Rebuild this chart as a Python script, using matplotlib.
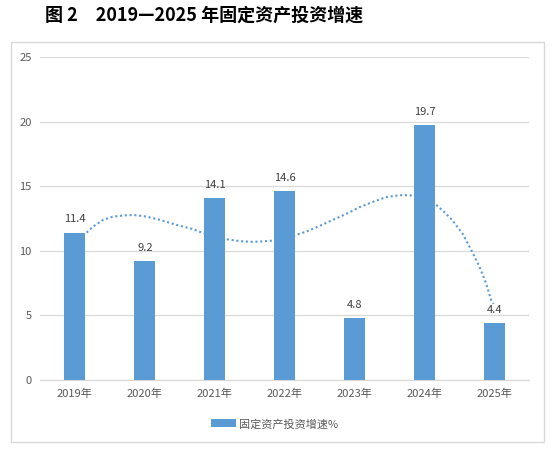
import matplotlib.pyplot as plt
from matplotlib.patches import Rectangle

plt.rcParams['font.family'] = ['Noto Sans CJK SC', 'DejaVu Sans']

years = ['2019年', '2020年', '2021年', '2022年', '2023年', '2024年', '2025年']
growth = [11.4, 9.2, 14.1, 14.6, 4.8, 19.7, 4.4]

# dotted curve (x in category units, 0 = 2019)
curve_x = [0.167, 0.261, 0.404, 0.547, 0.739, 0.881, 1.024, 1.214, 1.453, 1.69, 1.833,
           2.0, 2.167, 2.357, 2.547, 2.739, 2.833, 3.0, 3.176, 3.31, 3.5, 3.69, 3.881,
           4.071, 4.261, 4.453, 4.643, 4.786, 5.0, 5.157, 5.286, 5.404, 5.547, 5.676,
           5.786, 5.881, 5.953, 5.986]
curve_y = [11.4, 11.87, 12.39, 12.64, 12.75, 12.75, 12.64, 12.39, 12.0, 11.67, 11.36,
           11.1, 10.89, 10.74, 10.68, 10.74, 10.78, 10.95, 11.25, 11.48, 11.92, 12.39, 12.85,
           13.37, 13.78, 14.15, 14.3, 14.3, 14.1, 13.6, 12.98, 12.33, 11.3, 9.98,
           8.77, 7.48, 6.19, 5.88]

bar_color = '#5B9BD5'
text_color = '#595959'
grid_color = '#D9D9D9'

fig = plt.figure(figsize=(5.58, 4.54), dpi=100)
fig.patches.append(Rectangle((0.0197, 0.0271), 0.955, 0.8797, transform=fig.transFigure,
                             fill=False, edgecolor=grid_color, linewidth=1.0))

ax = fig.add_axes([0.0717, 0.1634, 0.8769, 0.711])
x = list(range(len(years)))
bars = ax.bar(x, growth, width=0.3, color=bar_color, edgecolor='none', zorder=3,
              label='固定资产投资增速%')
ax.plot(curve_x, curve_y, color=bar_color, linewidth=1.5, linestyle=(0, (1, 1.3)),
        dash_capstyle='butt', zorder=2)

for xi, v in zip(x, growth):
    ax.annotate(f'{v}', (xi, v), xytext=(0, 9.5), textcoords='offset points',
                ha='center', va='center', fontsize=8, color='#404040')

ax.set_xlim(-0.5, 6.5)
ax.set_ylim(0, 25)
ax.set_yticks([0, 5, 10, 15, 20, 25])
ax.set_xticks(x)
ax.set_xticklabels(years)
ax.tick_params(axis='both', length=0, labelsize=8, labelcolor=text_color)
ax.tick_params(axis='x', pad=6)
ax.tick_params(axis='y', pad=6)
ax.grid(axis='y', color=grid_color, linewidth=0.9, zorder=0)
for s in ['top', 'right', 'left']:
    ax.spines[s].set_visible(False)
ax.spines['bottom'].set_color(grid_color)
ax.spines['bottom'].set_linewidth(0.9)

ax.legend(loc='center', bbox_to_anchor=(0.48, -0.137), frameon=False, fontsize=8,
          labelcolor=text_color, handlelength=2.2, handleheight=0.72, handletextpad=0.3)

fig.text(0.081, 0.967, '图 2　2019—2025 年固定资产投资增速', fontsize=13, fontweight='bold',
         ha='left', va='center', color='black')

fig.savefig('out.png', dpi=100)
